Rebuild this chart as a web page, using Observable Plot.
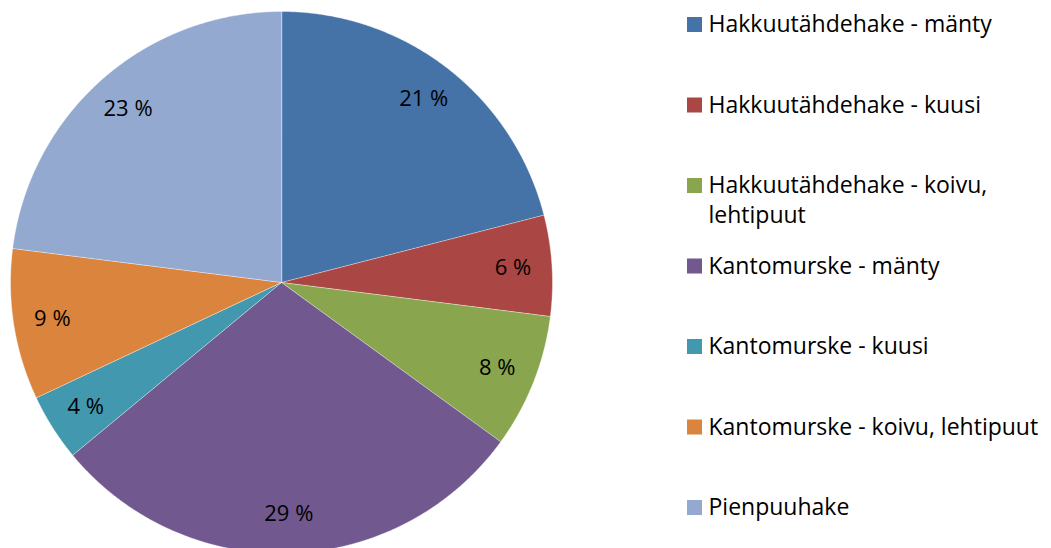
<!DOCTYPE html>
<html>
<head>
<meta charset="utf-8">
<script src="https://cdn.jsdelivr.net/npm/d3@7"></script>
<script src="https://cdn.jsdelivr.net/npm/@observablehq/plot@0.6"></script>
<style>
  html, body { margin: 0; padding: 0; background: #fff; }
  #chart svg { display: block; }
</style>
</head>
<body>
<div id="chart"></div>
<script>
const categories = [
  "Hakkuutähdehake - mänty",
  "Hakkuutähdehake - kuusi",
  "Hakkuutähdehake - koivu, lehtipuut",
  "Kantomurske - mänty",
  "Kantomurske - kuusi",
  "Kantomurske - koivu, lehtipuut",
  "Pienpuuhake"
];
const legendLabels = [
  "Hakkuutähdehake - mänty",
  "Hakkuutähdehake - kuusi",
  "Hakkuutähdehake - koivu,\nlehtipuut",
  "Kantomurske - mänty",
  "Kantomurske - kuusi",
  "Kantomurske - koivu, lehtipuut",
  "Pienpuuhake"
];
const values = [21, 6, 8, 29, 4, 9, 23];
const palette = ["#4572A7", "#AA4643", "#89A54E", "#71588F", "#4198AF", "#DB843D", "#93A9CF"];

const W = 1051, H = 548;
const cx = 281, cy = 282, R = 271, rLabel = 232;
const FONT = "'Open Sans', sans-serif";

const arcs = d3.pie().sort(null).value(d => d)(values);

// Slice outlines (center + arc points)
const slicePts = [];
arcs.forEach((a, i) => {
  const cat = categories[i];
  slicePts.push({cat, x: cx, y: cy});
  const n = Math.max(2, Math.ceil((a.endAngle - a.startAngle) / 0.005));
  for (let k = 0; k <= n; k++) {
    const t = a.startAngle + (a.endAngle - a.startAngle) * k / n;
    slicePts.push({cat, x: cx + R * Math.sin(t), y: cy - R * Math.cos(t)});
  }
});

const labels = arcs.map((a, i) => {
  const m = (a.startAngle + a.endAngle) / 2;
  return {text: values[i] + " %", x: cx + rLabel * Math.sin(m), y: cy - rLabel * Math.cos(m)};
});

const legendX = 687, legendY0 = 24.5, legendStep = 80.5, sq = 15;
const legend = categories.map((c, i) => ({
  cat: c, label: legendLabels[i], y: legendY0 + i * legendStep
}));

const chart = Plot.plot({
  width: W,
  height: H,
  margin: 0,
  x: {type: "linear", domain: [0, W], range: [0, W], axis: null},
  y: {type: "linear", domain: [0, H], range: [0, H], axis: null},
  color: {domain: categories, range: palette},
  style: {fontFamily: FONT, background: "#fff"},
  marks: [
    Plot.line(slicePts, {x: "x", y: "y", z: "cat", fill: "cat", stroke: "#fff", strokeWidth: 0.4, curve: "linear-closed"}),
    Plot.text(labels, {x: "x", y: "y", text: "text", fontSize: 22, fill: "#000"}),
    Plot.rect(legend, {x1: () => legendX, x2: () => legendX + sq, y1: d => d.y - sq / 2, y2: d => d.y + sq / 2, fill: "cat"}),
    Plot.text(legend, {x: () => legendX + sq + 6, y: d => d.y - 14, text: "label", textAnchor: "start", lineAnchor: "top", lineHeight: 1.3, fontSize: 23, fill: "#000"})
  ]
});
document.getElementById("chart").appendChild(chart);
</script>
</body>
</html>
